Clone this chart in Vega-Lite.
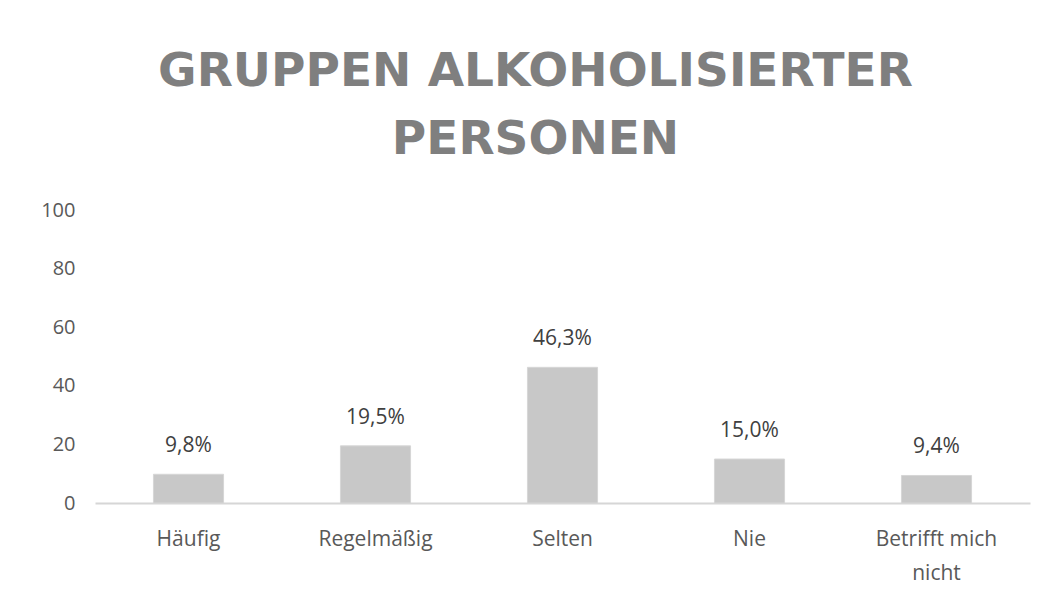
{
  "$schema": "https://vega.github.io/schema/vega-lite/v6.json",
  "autosize": "none",
  "width": 935,
  "height": 293,
  "padding": {"left": 95, "top": 210, "right": 22, "bottom": 104},
  "background": "white",
  "title": {
    "text": ["GRUPPEN ALKOHOLISIERTER", "PERSONEN"],
    "font": "DejaVu Sans",
    "fontSize": 47,
    "fontWeight": "bold",
    "color": "#7f7f7f",
    "lineHeight": 68,
    "anchor": "middle",
    "dx": -27,
    "offset": 36
  },
  "data": {
    "values": [
      {"cat": "Häufig", "value": 9.8, "label": "9,8%"},
      {"cat": "Regelmäßig", "value": 19.5, "label": "19,5%"},
      {"cat": "Selten", "value": 46.3, "label": "46,3%"},
      {"cat": "Nie", "value": 15.0, "label": "15,0%"},
      {"cat": "Betrifft mich nicht", "value": 9.4, "label": "9,4%"}
    ]
  },
  "encoding": {
    "x": {
      "field": "cat",
      "type": "nominal",
      "sort": null,
      "scale": {"paddingInner": 0.625, "paddingOuter": 0.3125},
      "axis": {
        "title": null,
        "labelAngle": 0,
        "ticks": false,
        "labelPadding": 25,
        "labelFont": "Open Sans",
        "labelFontSize": 21,
        "labelColor": "#595959",
        "labelLineHeight": 34,
        "labelExpr": "datum.value == 'Betrifft mich nicht' ? ['Betrifft mich', 'nicht'] : datum.value",
        "domainColor": "#d6d6d6",
        "domainWidth": 2
      }
    },
    "y": {
      "field": "value",
      "type": "quantitative",
      "scale": {"domain": [0, 100]},
      "axis": {
        "title": null,
        "values": [0, 20, 40, 60, 80, 100],
        "grid": false,
        "domain": false,
        "ticks": false,
        "labelPadding": 20,
        "labelFont": "Open Sans",
        "labelFontSize": 20,
        "labelColor": "#595959"
      }
    }
  },
  "layer": [
    {
      "mark": {"type": "bar", "color": "#c8c8c8", "stroke": "#d6d6d6", "strokeWidth": 1}
    },
    {
      "mark": {"type": "text", "baseline": "alphabetic", "dy": -22, "font": "Open Sans", "fontSize": 21, "color": "#404040"},
      "encoding": {"text": {"field": "label"}}
    }
  ],
  "config": {"view": {"stroke": null}}
}
